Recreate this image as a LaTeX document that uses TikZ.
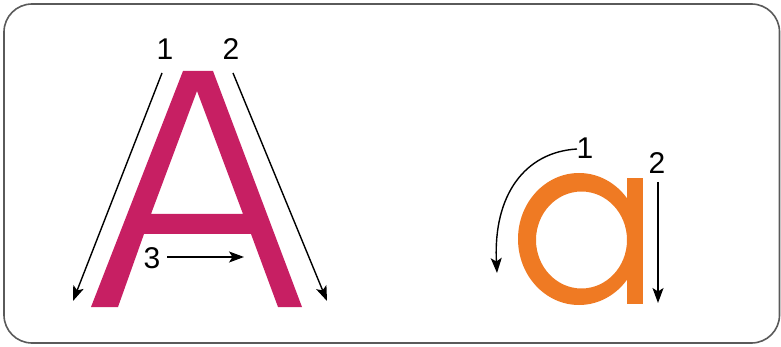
\documentclass[tikz,border=0pt]{standalone}
\usepackage{fontspec}
\setmainfont{Liberation Sans}
\usetikzlibrary{arrows.meta}
\definecolor{amag}{HTML}{C71F63}
\definecolor{aorg}{HTML}{EF7A23}
\definecolor{frameg}{HTML}{5A5A5A}
\begin{document}
\begin{tikzpicture}[x=1pt,y=-1pt,
  lbl/.style={font=\fontsize{30}{30}\selectfont, inner sep=0pt},
  arr/.style={line width=1.4pt, -{Stealth[length=15pt,width=11pt,inset=3.5pt]}}]
\useasboundingbox (0,0) rectangle (781,347);
\draw[line width=1.6pt, color=frameg, rounded corners=28pt] (4,4) rectangle (779.5,343);
% capital A
\fill[amag, even odd rule] (91,307) -- (183,71) -- (213,71) -- (302,307) -- (278,307) -- (251,234) -- (144,234) -- (118,307) -- cycle
  (151,214) -- (197,91) -- (243,214) -- cycle;
\node[lbl] (n1) at (165,49) {1};
\node[lbl] (n2) at (231,49) {2};
\node[lbl] (n3) at (152,258) {3};
\coordinate (a1s) at (162,73);
\coordinate (a1e) at (73,301);
\coordinate (a2s) at (233,73);
\coordinate (a2e) at (327,301);
\coordinate (a3s) at (167,257);
\coordinate (a3e) at (244,257);
\draw[arr] (a1s) -- (a1e);
\draw[arr] (a2s) -- (a2e);
\draw[arr] (a3s) -- (a3e);
% lowercase a
\fill[aorg, even odd rule] (579,239) ellipse [x radius=61, y radius=66]
  (581.5,240) ellipse [x radius=45.5, y radius=48.5];
\fill[aorg] (627,178) rectangle (643,304);
\node[lbl] (m1) at (585,148) {1};
\node[lbl] (m2) at (657,163) {2};
\coordinate (b1s) at (577,149);
\coordinate (b1e) at (497,273);
\coordinate (b2s) at (658,182);
\coordinate (b2e) at (658,303);
\draw[arr] (b1s) .. controls (525,152) and (493,195) .. (b1e);
\draw[arr] (b2s) -- (b2e);
\end{tikzpicture}
\end{document}
